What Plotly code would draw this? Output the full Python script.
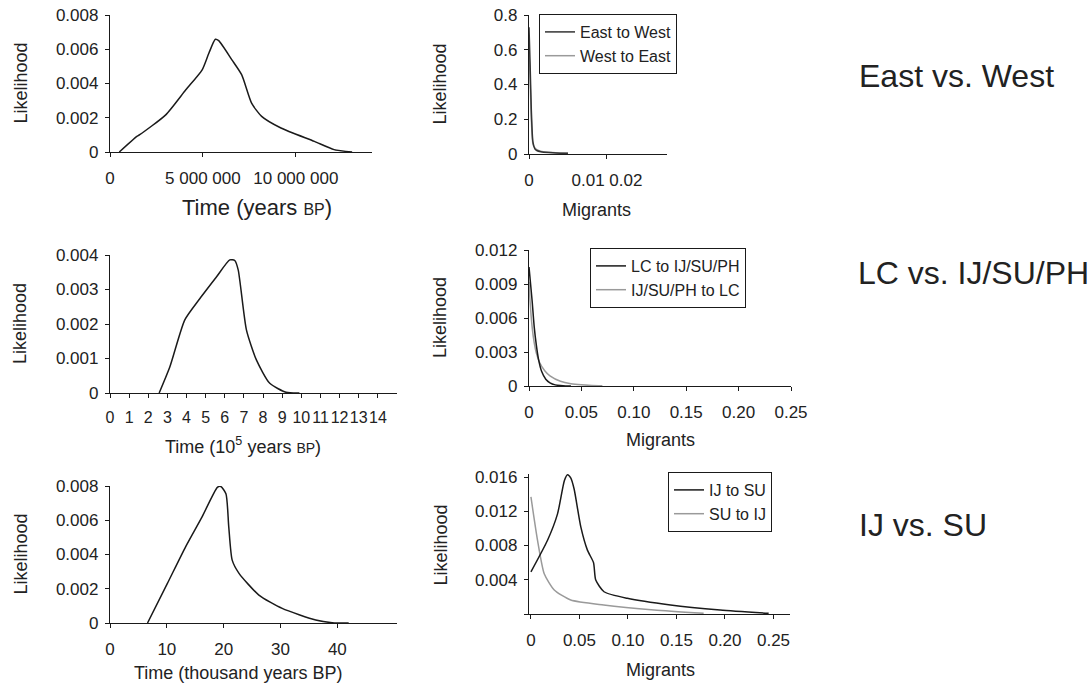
import plotly.graph_objects as go

W, H = 1092, 691
FONT = "Liberation Sans, Arial, sans-serif"
BLACK = "#1a1a1a"
GRAY = "#9a9a9a"

# ---------- data ----------
# Panel A: East vs West divergence time
ew_time = [0.5e6, 1.43e6, 1.6e6, 3.0e6, 4.08e6, 4.96e6, 5.32e6, 5.67e6, 5.85e6, 6.56e6,
           7.09e6, 7.62e6, 8.16e6, 9.2e6, 11.0e6, 12.06e6, 13.03e6]
ew_lik = [0.0, 0.0009, 0.00101, 0.00217, 0.00363, 0.0048, 0.00577, 0.00658, 0.0065, 0.00538,
          0.0045, 0.00285, 0.00208, 0.0014, 0.00062, 0.00014, 0.0]

# Panel B: East/West migrants
ew_mig_x = [0, 0.0003, 0.0006, 0.001, 0.0015, 0.002, 0.003, 0.005, 0.008, 0.01]
e2w_lik = [0.73, 0.5, 0.25, 0.07, 0.03, 0.02, 0.013, 0.008, 0.005, 0.004]
w2e_lik = [0.6, 0.42, 0.2, 0.06, 0.035, 0.025, 0.016, 0.01, 0.006, 0.004]

# Panel C: LC vs IJ/SU/PH divergence time (1e5 years BP)
lc_time = [2.57, 3.13, 3.91, 4.7, 5.57, 6.26, 6.52, 6.7, 7.13, 7.65, 8.35, 9.2, 9.9]
lc_lik = [0.0, 0.00076, 0.00212, 0.00274, 0.00337, 0.00386, 0.00384, 0.00357, 0.00183,
          0.00096, 0.00028, 0.00002, 0.0]

# Panel D: LC migrants
lc2ij_x = [0, 0.001, 0.003, 0.005, 0.007, 0.009, 0.012, 0.016, 0.02, 0.025, 0.03, 0.035, 0.04]
lc2ij_y = [0.0105, 0.0095, 0.0075, 0.0052, 0.0036, 0.0024, 0.0013, 0.0006, 0.00028, 0.0001,
           0.00004, 0.00001, 0.0]
ij2lc_x = [0, 0.001, 0.003, 0.005, 0.007, 0.01, 0.015, 0.02, 0.03, 0.04, 0.05, 0.06, 0.07]
ij2lc_y = [0.0092, 0.0075, 0.0052, 0.0038, 0.0029, 0.0021, 0.00135, 0.0009, 0.00042, 0.0002,
           0.0001, 0.00005, 0.00003]

# Panel E: IJ vs SU divergence time (thousand years BP)
ij_time = [6.6, 10.1, 13.3, 16.2, 18.9, 19.5, 20.4, 20.9, 21.5, 22.7, 26.2, 30.3, 36.2, 39.1, 42.0]
ij_lik = [0.0, 0.00231, 0.00445, 0.0062, 0.00792, 0.00797, 0.00755, 0.0056, 0.00367, 0.0029,
          0.00163, 0.00085, 0.00017, 0.00002, 0.0]

# Panel F: IJ/SU migrants
ij2su_x = [0, 0.0171, 0.0274, 0.0345, 0.0377, 0.041, 0.0445, 0.0514, 0.0582, 0.0645, 0.0668,
           0.0753, 0.0993, 0.1438, 0.195, 0.245]
ij2su_y = [0.00493, 0.00862, 0.0117, 0.0156, 0.01627, 0.0159, 0.0146, 0.01017, 0.00746, 0.006,
           0.00396, 0.0026, 0.00183, 0.00105, 0.00047, 0.00008]
su2ij_x = [0, 0.0068, 0.0137, 0.024, 0.041, 0.075, 0.127, 0.178]
su2ij_y = [0.01367, 0.0086, 0.0047, 0.0028, 0.00163, 0.00105, 0.00047, 0.00008]

row_labels = ["East vs. West", "LC vs. IJ/SU/PH", "IJ vs. SU"]

# ---------- figure ----------
fig = go.Figure()

def px_dom_x(a, b):
    return [a / W, b / W]

def px_dom_y(top, bottom):
    return [1 - bottom / H, 1 - top / H]

panels = [
    ("x", "y", (110, 372), (15, 152)),
    ("x2", "y2", (529, 667), (15, 154)),
    ("x3", "y3", (110, 397), (255, 393)),
    ("x4", "y4", (529, 791), (250, 386)),
    ("x5", "y5", (110, 397), (486, 623)),
    ("x6", "y6", (529, 790), (473.6, 614)),
]

def add(x, y, xa, ya, color, name=None, legend=None):
    fig.add_trace(go.Scatter(
        x=x, y=y, xaxis=xa, yaxis=ya, mode="lines",
        line=dict(color=color, width=1.5, shape="spline", smoothing=0.6),
        name=name or "", showlegend=name is not None, legend=legend,
        hoverinfo="skip"))

add(ew_time, ew_lik, "x", "y", BLACK)
add(ew_mig_x, w2e_lik, "x2", "y2", GRAY, "West to East", "legend")
add(ew_mig_x, e2w_lik, "x2", "y2", "#333333", "East to West", "legend")
add(lc_time, lc_lik, "x3", "y3", BLACK)
add(ij2lc_x, ij2lc_y, "x4", "y4", GRAY, "IJ/SU/PH to LC", "legend2")
add(lc2ij_x, lc2ij_y, "x4", "y4", BLACK, "LC to IJ/SU/PH", "legend2")
add(ij_time, ij_lik, "x5", "y5", BLACK)
add(su2ij_x, su2ij_y, "x6", "y6", GRAY, "SU to IJ", "legend3")
add(ij2su_x, ij2su_y, "x6", "y6", BLACK, "IJ to SU", "legend3")

axis_common = dict(showline=True, linecolor=BLACK, linewidth=1.3, ticks="outside", ticklen=4,
                   tickcolor=BLACK, tickwidth=1.2, showgrid=False, zeroline=False,
                   tickfont=dict(family=FONT, size=17, color="#222"), fixedrange=True,
                   automargin=False, tickangle=0)

x_specs = [
    dict(range=[0, 14.1e6], tickvals=[0, 5e6, 1e7], ticktext=["0", "5 000 000", "10 000 000"]),
    dict(range=[0, 0.0354], tickvals=[0, 0.02], ticktext=["0", "0.01 0.02"]),
    dict(range=[0, 15], tickvals=list(range(15)), ticktext=[str(i) for i in range(15)],
         tickfont=dict(family=FONT, size=16, color="#222")),
    dict(range=[0, 0.25], tickvals=[0, 0.05, 0.10, 0.15, 0.20, 0.25],
         ticktext=["0", "0.05", "0.10", "0.15", "0.20", "0.25"]),
    dict(range=[0, 50.5], tickvals=[0, 10, 20, 30, 40], ticktext=["0", "10", "20", "30", "40"]),
    dict(range=[-0.002, 0.267], tickvals=[0, 0.05, 0.10, 0.15, 0.20, 0.25],
         ticktext=["0", "0.05", "0.10", "0.15", "0.20", "0.25"]),
]
y_specs = [
    dict(range=[0, 0.008], tickvals=[0, 0.002, 0.004, 0.006, 0.008],
         ticktext=["0", "0.002", "0.004", "0.006", "0.008"]),
    dict(range=[0, 0.8], tickvals=[0, 0.2, 0.4, 0.6, 0.8], ticktext=["0", "0.2", "0.4", "0.6", "0.8"]),
    dict(range=[0, 0.004], tickvals=[0, 0.001, 0.002, 0.003, 0.004],
         ticktext=["0", "0.001", "0.002", "0.003", "0.004"]),
    dict(range=[0, 0.012], tickvals=[0, 0.003, 0.006, 0.009, 0.012],
         ticktext=["0", "0.003", "0.006", "0.009", "0.012"]),
    dict(range=[0, 0.008], tickvals=[0, 0.002, 0.004, 0.006, 0.008],
         ticktext=["0", "0.002", "0.004", "0.006", "0.008"]),
    dict(range=[0, 0.0164], tickvals=[0, 0.004, 0.008, 0.012, 0.016],
         ticktext=["", "0.004", "0.008", "0.012", "0.016"]),
]

layout = {}
for i, (xa, ya, xd, yd) in enumerate(panels):
    xk = "xaxis" if xa == "x" else "xaxis" + xa[1:]
    yk = "yaxis" if ya == "y" else "yaxis" + ya[1:]
    xs = dict(axis_common)
    xs.update(x_specs[i])
    xs.update(domain=px_dom_x(*xd), anchor=ya, ticklabelstandoff=6)
    ys = dict(axis_common)
    ys.update(y_specs[i])
    ys.update(domain=px_dom_y(*yd), anchor=xa, ticklabelstandoff=3)
    layout[xk] = xs
    layout[yk] = ys

fig.update_layout(**layout)

legend_common = dict(bordercolor=BLACK, borderwidth=1, bgcolor="white",
                     font=dict(family=FONT, size=16, color="#222"),
                     xanchor="left", yanchor="top", tracegroupgap=0, itemwidth=30,
                     traceorder="reversed")
fig.update_layout(
    width=W, height=H, margin=dict(l=0, r=0, t=0, b=0, pad=0, autoexpand=False),
    paper_bgcolor="white", plot_bgcolor="white",
    legend=dict(legend_common, x=539 / W, y=1 - 14 / H),
    legend2=dict(legend_common, x=590 / W, y=1 - 248 / H),
    legend3=dict(legend_common, x=668 / W, y=1 - 472 / H),
)

annotations = []
def ann(text, x, y, size=18, angle=0, xanchor="center"):
    annotations.append(dict(text=text, x=x / W, y=1 - y / H, xref="paper", yref="paper",
                            showarrow=False, textangle=angle, xanchor=xanchor, yanchor="middle",
                            font=dict(family=FONT, size=size, color="#222")))

# y titles
for ycen in [(15 + 152) / 2, (255 + 393) / 2, (486 + 623) / 2]:
    ann("Likelihood", 20, ycen, angle=-90)
for ycen in [(15 + 154) / 2, (250 + 386) / 2, (477 + 614) / 2]:
    ann("Likelihood", 440, ycen, angle=-90)

# x titles
ann("Time (years <span style='font-size:16px'>BP</span>)", 257, 207, size=22)
ann("Migrants", 597, 210)
ann("Time (10<sup>5</sup> years <span style='font-size:14px'>BP</span>)", 243, 445)
ann("Migrants", 660, 440)
ann("Time (thousand years BP)", 238, 673)
ann("Migrants", 660, 670)

# row labels
ann(row_labels[0], 857, 76, size=32, xanchor="left")
ann(row_labels[1], 856, 273, size=32, xanchor="left")
ann(row_labels[2], 857, 525, size=32, xanchor="left")

fig.update_layout(annotations=annotations)
fig.write_html("out.html", config={"displayModeBar": False},
               post_script="document.body.style.margin='0';document.body.style.overflow='hidden';")
